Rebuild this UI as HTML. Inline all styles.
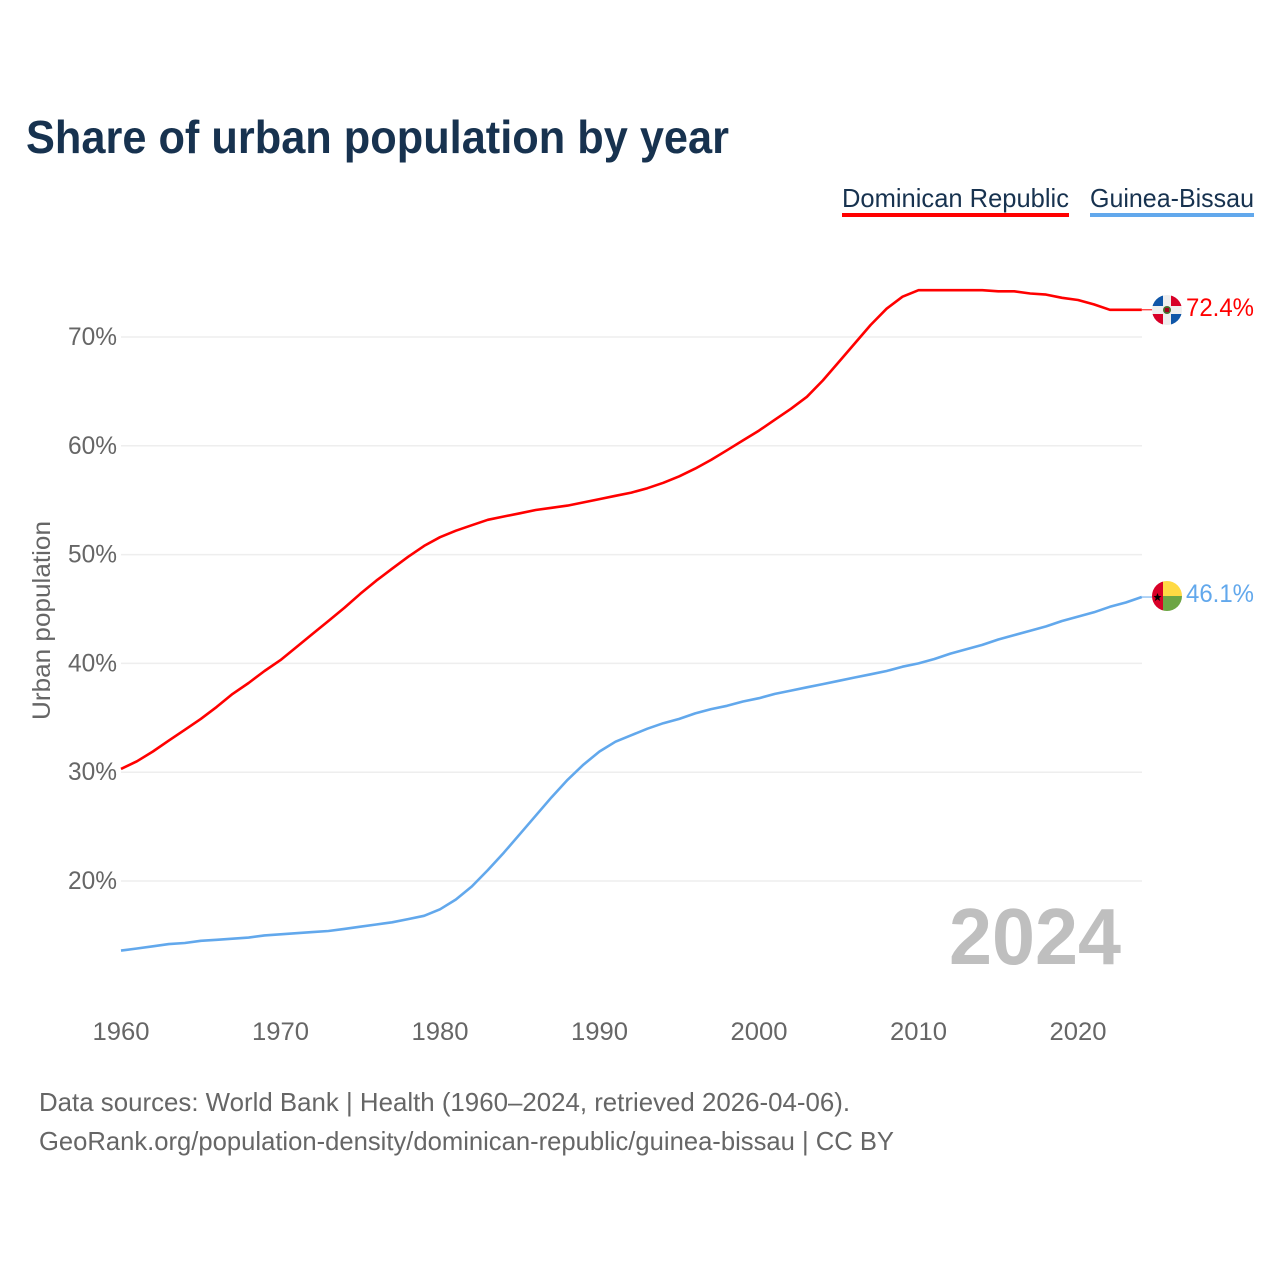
<!DOCTYPE html>
<html lang="en">
<head>
<meta charset="utf-8">
<title>Share of urban population by year</title>
<style>
html,body{margin:0;padding:0;background:#fff;width:1280px;height:1280px;overflow:hidden}
svg{display:block}
text{font-family:"Liberation Sans",sans-serif}
</style>
</head>
<body>
<svg id="chart" xmlns="http://www.w3.org/2000/svg" width="1280" height="1280" viewBox="0 0 1280 1280">
  <defs>
    <clipPath id="clip-do"><circle cx="1167" cy="310" r="15"/></clipPath>
    <clipPath id="clip-gw"><circle cx="1167" cy="596" r="15"/></clipPath>
  </defs>
  <text x="26" y="153" font-size="46" font-weight="700" fill="#17324f" textLength="703" lengthAdjust="spacingAndGlyphs">Share of urban population by year</text>

  <g>
    <text x="842" y="207" font-size="26" fill="#17324f" textLength="227" lengthAdjust="spacingAndGlyphs">Dominican Republic</text>
    <rect x="842" y="213" width="227" height="4" fill="#ff0000"/>
  </g>
  <g>
    <text x="1090" y="207" font-size="26" fill="#17324f" textLength="164" lengthAdjust="spacingAndGlyphs">Guinea-Bissau</text>
    <rect x="1090" y="213" width="164" height="4" fill="#62a8ec"/>
  </g>

  <g id="grid"></g>
  <g id="yticks"></g>
  <g id="xticks"></g>

  <text transform="translate(50,720) rotate(-90)" font-size="25" fill="#666" textLength="199" lengthAdjust="spacingAndGlyphs">Urban population</text>

  <text x="949" y="964" font-size="80" font-weight="700" fill="#bfbfbf" textLength="172" lengthAdjust="spacingAndGlyphs">2024</text>

  <g id="series"></g>

  <g clip-path="url(#clip-do)">
    <rect x="1152" y="295" width="30" height="30" fill="#eeeeee"/>
    <rect x="1152" y="295" width="11" height="11" fill="#0f56a8"/>
    <rect x="1171" y="295" width="11" height="11" fill="#d80027"/>
    <rect x="1152" y="314" width="11" height="11" fill="#d80027"/>
    <rect x="1171" y="314" width="11" height="11" fill="#0f56a8"/>
    <circle cx="1167" cy="310" r="4" fill="#496e2d"/>
    <rect x="1165" y="308" width="4" height="4" fill="#a2001d"/>
  </g>
  <g clip-path="url(#clip-gw)">
    <rect x="1152" y="581" width="11" height="30" fill="#d80027"/>
    <rect x="1163" y="581" width="19" height="15" fill="#ffda44"/>
    <rect x="1163" y="596" width="19" height="15" fill="#6da544"/>
    <polygon points="1157.5,593 1158.7,596 1161.5,596 1159.2,598 1160.2,601 1157.5,599.2 1154.8,601 1155.8,598 1153.5,596 1156.3,596" fill="#000"/>
  </g>

  <text x="1186" y="316" font-size="25" fill="#ff0000" textLength="68" lengthAdjust="spacingAndGlyphs">72.4%</text>
  <text x="1186" y="602" font-size="25" fill="#62a8ec" textLength="68" lengthAdjust="spacingAndGlyphs">46.1%</text>

  <text x="39" y="1111" font-size="26" fill="#666" textLength="811" lengthAdjust="spacingAndGlyphs">Data sources: World Bank | Health (1960–2024, retrieved 2026-04-06).</text>
  <text x="39" y="1150" font-size="26" fill="#666" textLength="855" lengthAdjust="spacingAndGlyphs">GeoRank.org/population-density/dominican-republic/guinea-bissau | CC BY</text>
</svg>
<script>
const startYear = 1960;
const xTickYears = [1960, 1970, 1980, 1990, 2000, 2010, 2020];
const yTickValues = [20, 30, 40, 50, 60, 70];
const dominicanRepublic = [
  30.3, 31.0, 31.9, 32.9, 33.9, 34.9, 36.0, 37.2, 38.2, 39.3,
  40.3, 41.5, 42.7, 43.9, 45.1, 46.4, 47.6, 48.7, 49.8, 50.8,
  51.6, 52.2, 52.7, 53.2, 53.5, 53.8, 54.1, 54.3, 54.5, 54.8,
  55.1, 55.4, 55.7, 56.1, 56.6, 57.2, 57.9, 58.7, 59.6, 60.5,
  61.4, 62.4, 63.4, 64.5, 66.0, 67.7, 69.4, 71.1, 72.6, 73.7,
  74.3, 74.3, 74.3, 74.3, 74.3, 74.2, 74.2, 74.0, 73.9, 73.6,
  73.4, 73.0, 72.5, 72.5, 72.5
];
const guineaBissau = [
  13.6, 13.8, 14.0, 14.2, 14.3, 14.5, 14.6, 14.7, 14.8, 15.0,
  15.1, 15.2, 15.3, 15.4, 15.6, 15.8, 16.0, 16.2, 16.5, 16.8,
  17.4, 18.3, 19.5, 21.0, 22.6, 24.3, 26.0, 27.7, 29.3, 30.7,
  31.9, 32.8, 33.4, 34.0, 34.5, 34.9, 35.4, 35.8, 36.1, 36.5,
  36.8, 37.2, 37.5, 37.8, 38.1, 38.4, 38.7, 39.0, 39.3, 39.7,
  40.0, 40.4, 40.9, 41.3, 41.7, 42.2, 42.6, 43.0, 43.4, 43.9,
  44.3, 44.7, 45.2, 45.6, 46.1
];

const NS = 'http://www.w3.org/2000/svg';
function xScale(year) { return 121 + (year - 1960) * 15.95; }
function yScale(value) { return 881 - (value - 20) * 10.88; }
function make(tag, attrs, parent) {
  const el = document.createElementNS(NS, tag);
  for (const k in attrs) el.setAttribute(k, attrs[k]);
  parent.appendChild(el);
  return el;
}

const grid = document.getElementById('grid');
const yticks = document.getElementById('yticks');
const xticks = document.getElementById('xticks');
const series = document.getElementById('series');

yTickValues.forEach(function (v) {
  const line = make('line', { x1: 121, x2: 1142, y1: yScale(v), y2: yScale(v), stroke: '#eeeeee', 'stroke-width': 1.5 }, grid);
  
  
  const t = make('text', { x: 117, y: yScale(v) + 8, 'text-anchor': 'end', 'font-size': 25, fill: '#666', textLength: 49, lengthAdjust: 'spacingAndGlyphs' }, yticks);
  t.textContent = v + '%';
  
  
});

xTickYears.forEach(function (y) {
  const t = make('text', { x: xScale(y), y: 1040, 'text-anchor': 'middle', 'font-size': 25, fill: '#666', textLength: 57, lengthAdjust: 'spacingAndGlyphs' }, xticks);
  t.textContent = String(y);
  
  
});

function drawLine(values, color, name) {
  const pts = values.map(function (v, i) {
    return xScale(startYear + i).toFixed(1) + ',' + yScale(v).toFixed(1);
  });
  const p = make('polyline', { points: pts.join(' '), fill: 'none', stroke: color, 'stroke-width': 2.6, 'stroke-linejoin': 'round' }, series);
  
  
  const last = values[values.length - 1];
  const lastX = xScale(startYear + values.length - 1);
  const c = make('line', { x1: lastX, x2: 1153, y1: yScale(last), y2: yScale(last), stroke: color, 'stroke-width': 1 }, series);
  
  
}
drawLine(guineaBissau, '#62a8ec', 'guinea-bissau');
drawLine(dominicanRepublic, '#ff0000', 'dominican-republic');
</script>
</body>
</html>
